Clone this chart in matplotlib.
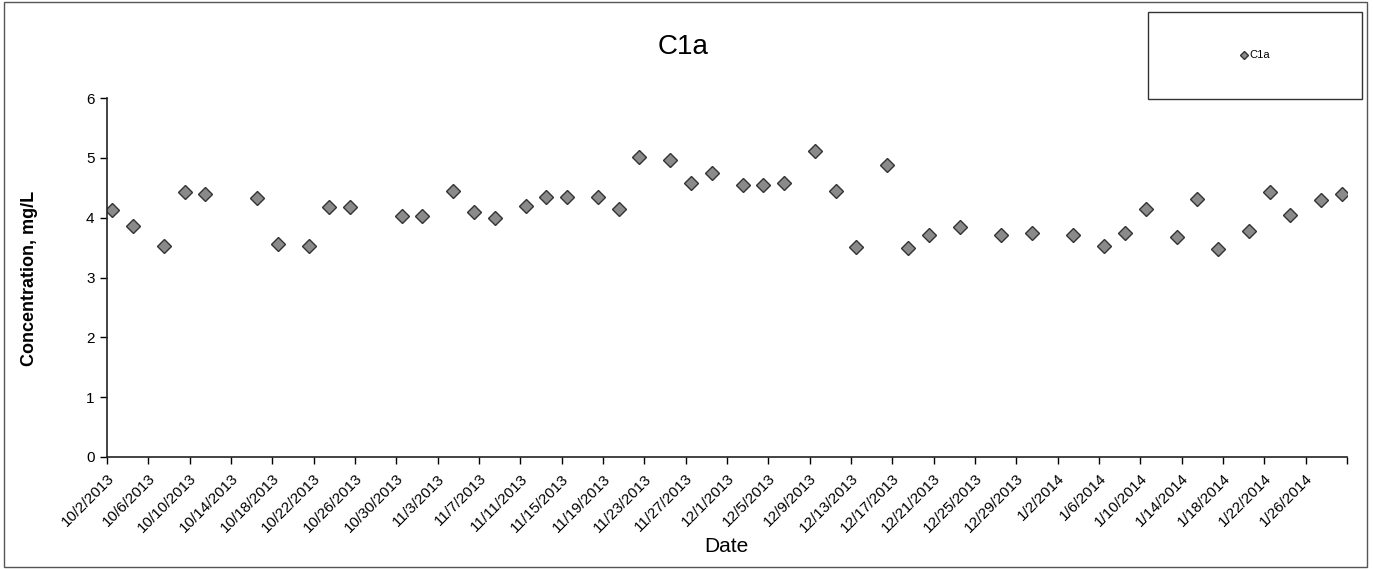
import datetime as dt
import matplotlib
matplotlib.use('Agg')
import matplotlib.pyplot as plt
import matplotlib.dates as mdates
import matplotlib.patches as patches

plt.rcParams['font.family'] = ['Liberation Sans', 'DejaVu Sans']

# sample dates (m/d/yyyy) and concentrations
dates = [
    '10/2/2013', '10/4/2013', '10/7/2013', '10/9/2013', '10/11/2013', '10/16/2013',
    '10/18/2013', '10/21/2013', '10/23/2013', '10/25/2013', '10/30/2013', '11/1/2013',
    '11/4/2013', '11/6/2013', '11/8/2013', '11/11/2013', '11/13/2013', '11/15/2013',
    '11/18/2013', '11/20/2013', '11/22/2013', '11/25/2013', '11/27/2013', '11/29/2013',
    '12/2/2013', '12/4/2013', '12/6/2013', '12/9/2013', '12/11/2013', '12/13/2013',
    '12/16/2013', '12/18/2013', '12/20/2013', '12/23/2013', '12/27/2013', '12/30/2013',
    '1/3/2014', '1/6/2014', '1/8/2014', '1/10/2014', '1/13/2014', '1/15/2014',
    '1/17/2014', '1/20/2014', '1/22/2014', '1/24/2014', '1/27/2014', '1/29/2014',
]
conc = [
    4.12, 3.86, 3.53, 4.43, 4.40, 4.33,
    3.56, 3.53, 4.17, 4.17, 4.03, 4.03,
    4.44, 4.10, 4.00, 4.20, 4.34, 4.34,
    4.34, 4.15, 5.01, 4.96, 4.58, 4.74,
    4.54, 4.54, 4.58, 5.12, 4.45, 3.51,
    4.88, 3.50, 3.71, 3.84, 3.71, 3.75,
    3.71, 3.52, 3.75, 4.15, 3.68, 4.32,
    3.48, 3.78, 4.43, 4.05, 4.30, 4.39,
]
series_name = 'C1a'
x_start = '10/2/2013'
x_end = '1/30/2014'
y_ticks = [0, 1, 2, 3, 4, 5, 6]


def to_date(s):
    return dt.datetime.strptime(s, '%m/%d/%Y')


def main():
    fig = plt.figure(figsize=(13.73, 5.69), dpi=100)
    ax = fig.add_axes([107 / 1373, 1 - 457 / 569, 1240 / 1373, 359 / 569])

    # excel puts date points between the tick marks (middle of the day)
    xs = [to_date(d) + dt.timedelta(hours=12) for d in dates]
    ax.plot(xs, conc, linestyle='none', marker='D', ms=7.4,
            markerfacecolor='#8a8a8a', markeredgecolor='#333333', markeredgewidth=1.0,
            label=series_name)

    start, end = to_date(x_start), to_date(x_end)
    ax.set_xlim(start, end)
    ax.set_ylim(0, 6)

    ticks = []
    d = start
    while d <= end:
        ticks.append(d)
        d += dt.timedelta(days=4)
    ax.set_xticks(ticks)
    ax.set_xticklabels([])
    # rotated date labels, last tick (1/30) has no label like the original
    for t in ticks[:-1]:
        ax.annotate(f'{t.month}/{t.day}/{t.year}', xy=(mdates.date2num(t), 0),
                    xycoords=ax.get_xaxis_transform(), xytext=(3.5, -14),
                    textcoords='offset points', rotation=45, ha='right', va='center',
                    rotation_mode='anchor', fontsize=11)
    ax.set_yticks(y_ticks)
    ax.tick_params(axis='y', labelsize=11, length=5, width=1, direction='out', pad=4)
    ax.tick_params(axis='x', length=5, width=1, direction='out')

    for side in ['top', 'right']:
        ax.spines[side].set_visible(False)
    for side in ['left', 'bottom']:
        ax.spines[side].set_linewidth(1.2)
        ax.spines[side].set_color('#222222')

    fig.text(30 / 1373, 1 - 278 / 569, 'Concentration, mg/L', rotation=90,
             ha='center', va='center', fontsize=13, fontweight='bold')
    fig.text(726 / 1373, 1 - 546 / 569, 'Date', ha='center', va='center', fontsize=15)
    fig.text(683 / 1373, 1 - 47 / 569, 'C1a', ha='center', va='center', fontsize=20)

    # outer chart border
    fig.patches.append(patches.Rectangle((4 / 1373, 2 / 569), 1363 / 1373, 565 / 569,
                                         transform=fig.transFigure, fill=False,
                                         edgecolor='#555555', linewidth=1))
    # legend box
    lx0, ly0, lx1, ly1 = 1148, 12, 1362, 99
    fig.patches.append(patches.Rectangle((lx0 / 1373, 1 - ly1 / 569),
                                         (lx1 - lx0) / 1373, (ly1 - ly0) / 569,
                                         transform=fig.transFigure, fill=False,
                                         edgecolor='#333333', linewidth=1))
    fig.legend(loc='center', bbox_to_anchor=((lx0 + lx1) / 2 / 1373, 1 - (ly0 + ly1) / 2 / 569),
               frameon=False, fontsize=8, markerscale=0.6, handlelength=0.6,
               handletextpad=0.2)

    fig.savefig('out.png', dpi=100)


if __name__ == "__main__":
    main()
